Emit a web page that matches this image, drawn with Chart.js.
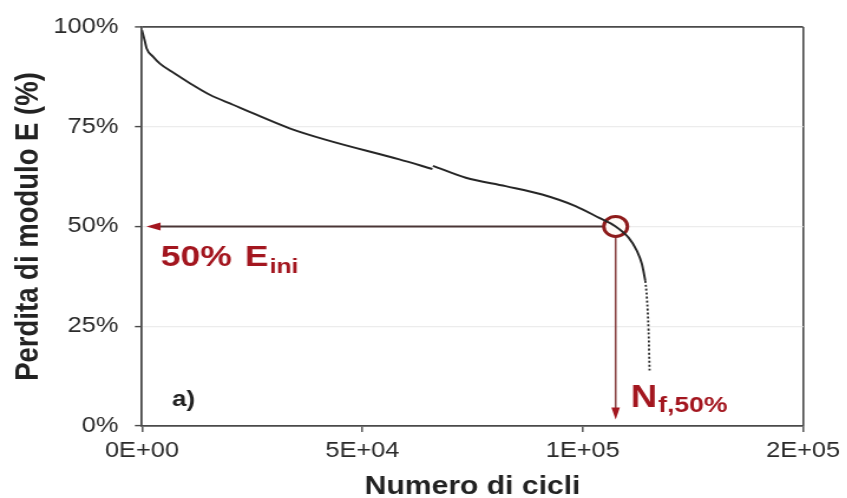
<!DOCTYPE html>
<html>
<head>
<meta charset="utf-8">
<script src="https://cdn.jsdelivr.net/npm/chart.js@4.4.1/dist/chart.umd.min.js"></script>
<style>
  html, body { margin: 0; padding: 0; background: #fff; overflow: hidden; }
  /* the figure is drawn slightly narrow and widened, like the exported plot */
  #c { position: absolute; left: 0; top: 0; transform: scaleX(1.18); transform-origin: 0 0; }
</style>
</head>
<body>
<canvas id="c" width="718" height="498"></canvas>
<script>
// Modulus loss curve (number of cycles vs residual modulus, %); null marks the restart of the logger
const cycles  = [0, 680, 1063, 2557, 4072, 6720, 10860, 15385, 20660, 25950, 33480, 41790, 58370, 65900, 65950, 66000, 73460, 82510, 90790, 98350, 103620, 107466, 110400, 112290, 113420, 114190];
const modulus = [99.2, 96.3, 94.6, 92.5, 90.8, 88.8, 85.9, 83.0, 80.5, 78.0, 74.6, 71.7, 66.8, 64.4, null, 65.2, 62.2, 60.1, 58.0, 55.1, 52.2, 50.0, 47.2, 43.9, 40.6, 36.4];
// sparse final readings before failure
const tailCycles  = [114190, 114550, 114930, 115160];
const tailModulus = [36.4, 32.2, 23.9, 13.9];

// failure criterion: 50% of the initial modulus
const failCycles  = [107466];
const failModulus = [50];

const xTickLabels = ['0E+00', '5E+04', '1E+05', '2E+05'];
const yTickLabels = ['0%', '25%', '50%', '75%', '100%'];

const FONT = '"Liberation Sans", Arial, Helvetica, sans-serif';
const FRAME = '#4a4a4a';
const RED = '#a3161f';

const pts = (xs, ys) => xs.map((v, i) => ({ x: v, y: ys[i] }));

// arrows and the red labels
const annotate = {
  id: 'annotate',
  beforeDatasetsDraw(chart) {
    const { ctx, scales: { x, y } } = chart;
    const px = x.getPixelForValue(failCycles[0]);
    const py = y.getPixelForValue(failModulus[0]);
    const hx = x.getPixelForValue(1000);   // arrow tip on the modulus axis
    const vy = y.getPixelForValue(1.6);    // arrow tip on the cycles axis
    ctx.save();
    // horizontal arrow to 50%
    ctx.strokeStyle = '#4a3636';
    ctx.lineWidth = 2;
    ctx.beginPath(); ctx.moveTo(px, py); ctx.lineTo(hx + 8, py); ctx.stroke();
    ctx.fillStyle = RED;
    ctx.beginPath(); ctx.moveTo(hx, py); ctx.lineTo(hx + 12, py - 4); ctx.lineTo(hx + 12, py + 4); ctx.closePath(); ctx.fill();
    // vertical arrow to N_f,50%
    ctx.strokeStyle = '#8a4545';
    ctx.lineWidth = 1.6;
    ctx.beginPath(); ctx.moveTo(px, py); ctx.lineTo(px, vy - 8); ctx.stroke();
    ctx.fillStyle = RED;
    ctx.beginPath(); ctx.moveTo(px, vy); ctx.lineTo(px - 3.6, vy - 12); ctx.lineTo(px + 3.6, vy - 12); ctx.closePath(); ctx.fill();
    ctx.restore();
  },
  afterDatasetsDraw(chart) {
    const { ctx, scales: { x, y } } = chart;
    ctx.save();
    ctx.textBaseline = 'alphabetic';
    ctx.textAlign = 'left';

    // 50% E_ini
    let bx = x.getPixelForValue(4300), by = y.getPixelForValue(40.1);
    ctx.fillStyle = RED;
    ctx.font = 'bold 30px ' + FONT;
    ctx.fillText('50%', bx, by);
    let w = ctx.measureText('50%').width + 11;
    ctx.fillText('E', bx + w, by);
    w += ctx.measureText('E').width + 1;
    ctx.font = 'bold 21px ' + FONT;
    ctx.fillText('ini', bx + w, by + 7);

    // N_f,50%
    bx = x.getPixelForValue(110860); by = y.getPixelForValue(4.7);
    ctx.font = 'bold 31px ' + FONT;
    ctx.fillText('N', bx, by);
    w = ctx.measureText('N').width + 1;
    ctx.font = 'bold 22.5px ' + FONT;
    ctx.fillText('f,50%', bx + w, by + 5);

    // panel tag
    ctx.fillStyle = '#222';
    ctx.font = 'bold 22px ' + FONT;
    ctx.fillText('a)', x.getPixelForValue(6790), y.getPixelForValue(5.0));
    ctx.restore();
  }
};

new Chart(document.getElementById('c'), {
  type: 'scatter',
  data: {
    datasets: [
      {
        data: pts(cycles, modulus),
        showLine: true,
        spanGaps: false,
        borderColor: '#262626',
        borderWidth: 1.9,
        pointRadius: 0,
        cubicInterpolationMode: 'monotone'
      },
      {
        data: pts(tailCycles, tailModulus),
        showLine: true,
        borderColor: '#262626',
        borderWidth: 1.8,
        borderDash: [2, 2],
        pointRadius: 0,
        cubicInterpolationMode: 'monotone'
      },
      {
        data: pts(failCycles, failModulus),
        showLine: false,
        pointRadius: 10,
        pointBorderWidth: 3,
        pointBorderColor: '#8e1b1b',
        pointBackgroundColor: '#fffaf6'
      }
    ]
  },
  options: {
    responsive: false,
    animation: false,
    events: [],
    layout: { padding: { top: 25, right: 35, bottom: 0, left: 0 } },
    plugins: { legend: { display: false }, tooltip: { enabled: false } },
    scales: {
      x: {
        type: 'linear',
        min: 0,
        max: 150000,
        afterFit: s => { s.height = 72; },
        afterBuildTicks: s => { s.ticks = [0, 50000, 100000, 150000].map(v => ({ value: v })); },
        ticks: {
          color: '#2a2a2a',
          font: { family: FONT, size: 21.5 },
          padding: 6,
          maxRotation: 0,
          callback: (v, i) => xTickLabels[i]
        },
        grid: {
          color: c => (c.tick && c.tick.value === 150000) ? FRAME : 'rgba(0,0,0,0)',
          lineWidth: 1.6,
          tickColor: FRAME,
          tickLength: 6,
          tickWidth: 1.4
        },
        border: { display: true, color: FRAME, width: 1.8 },
        title: {
          display: true,
          text: 'Numero di cicli',
          color: '#222',
          font: { family: FONT, size: 25.5, weight: 'bold', lineHeight: 0.85 },
          padding: { top: 0, bottom: 0 }
        }
      },
      y: {
        min: 0,
        max: 100,
        afterFit: s => { s.width = 120.3; },
        afterBuildTicks: s => { s.ticks = [0, 25, 50, 75, 100].map(v => ({ value: v })); },
        ticks: {
          color: '#2a2a2a',
          font: { family: FONT, size: 21.5 },
          padding: 14,
          callback: (v, i) => yTickLabels[i]
        },
        grid: {
          color: c => {
            const v = c.tick && c.tick.value;
            if (v === 100) return FRAME;
            if (v === 0) return 'rgba(0,0,0,0)';
            return '#ececec';
          },
          lineWidth: c => (c.tick && c.tick.value === 100) ? 1.8 : 1.2,
          tickColor: FRAME,
          tickLength: 6,
          tickWidth: 1.4
        },
        border: { display: true, color: FRAME, width: 1.8 },
        title: {
          display: true,
          text: 'Perdita di modulo E (%)',
          color: '#222',
          font: { family: FONT, size: 27.5, weight: 'bold', lineHeight: 1.2 },
          padding: { top: 8, bottom: 0 }
        }
      }
    }
  },
  plugins: [annotate]
});
</script>
</body>
</html>
